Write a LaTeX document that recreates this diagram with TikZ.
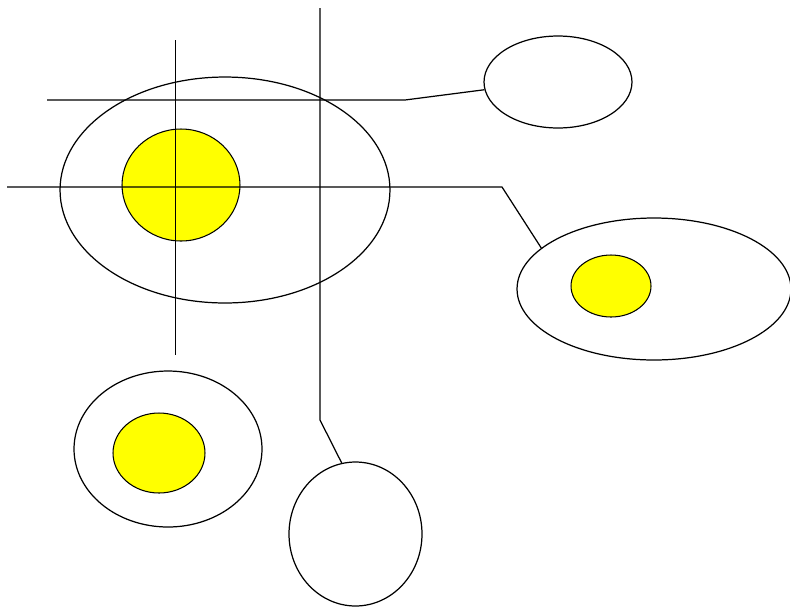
\documentclass[tikz,border=0pt]{standalone}
\usepackage{tikz}
\usetikzlibrary{shapes.geometric}
\definecolor{yolkfill}{RGB}{255,255,0}

\begin{document}
\begin{tikzpicture}[
  x=0.02cm, y=-0.02cm,
  ring/.style={draw, ellipse, inner sep=0pt, line width=0.7pt},
  yolk/.style={draw, ellipse, inner sep=0pt, line width=0.6pt, fill=yolkfill},
  wire/.style={line width=0.7pt}
]
\useasboundingbox (0,0) rectangle (790,609);
% Big ellipse with yolk
\node[ring, minimum width=6.6cm, minimum height=4.52cm]   (big)     at (225,190) {};
\node[yolk, minimum width=2.36cm, minimum height=2.24cm]  (bigyolk) at (181,185) {};
% Outer ellipses
\node[ring, minimum width=2.96cm, minimum height=1.84cm]  (topell)  at (558,82)  {};
\node[ring, minimum width=5.48cm, minimum height=2.84cm]  (rightell) at (654,289) {};
\node[yolk, minimum width=1.6cm, minimum height=1.24cm]   (rightyolk) at (611,286) {};
\node[ring, minimum width=3.76cm, minimum height=3.12cm]  (leftell) at (168,449) {};
\node[yolk, minimum width=1.84cm, minimum height=1.6cm]   (leftyolk) at (159,453) {};
\node[ring, minimum width=2.66cm, minimum height=2.88cm]  (botell)  at (355.5,534) {};
% Line ends and bends
\coordinate (vA)  at (175.5,40);
\coordinate (vAe) at (175.5,355);
\coordinate (vB)  at (320,8);
\coordinate (vBk) at (320,420);
\coordinate (hA)  at (47,100);
\coordinate (hAk) at (405,100);
\coordinate (hB)  at (7,187);
\coordinate (hBk) at (502,187);
% Lines
\draw[wire] (vA) -- (vAe);
\draw[wire] (vB) -- (vBk) -- (botell.101);
\draw[wire] (hA) -- (hAk) -- (topell.186);
\draw[wire] (hB) -- (hBk) -- (rightell.160);
\end{tikzpicture}
\end{document}
